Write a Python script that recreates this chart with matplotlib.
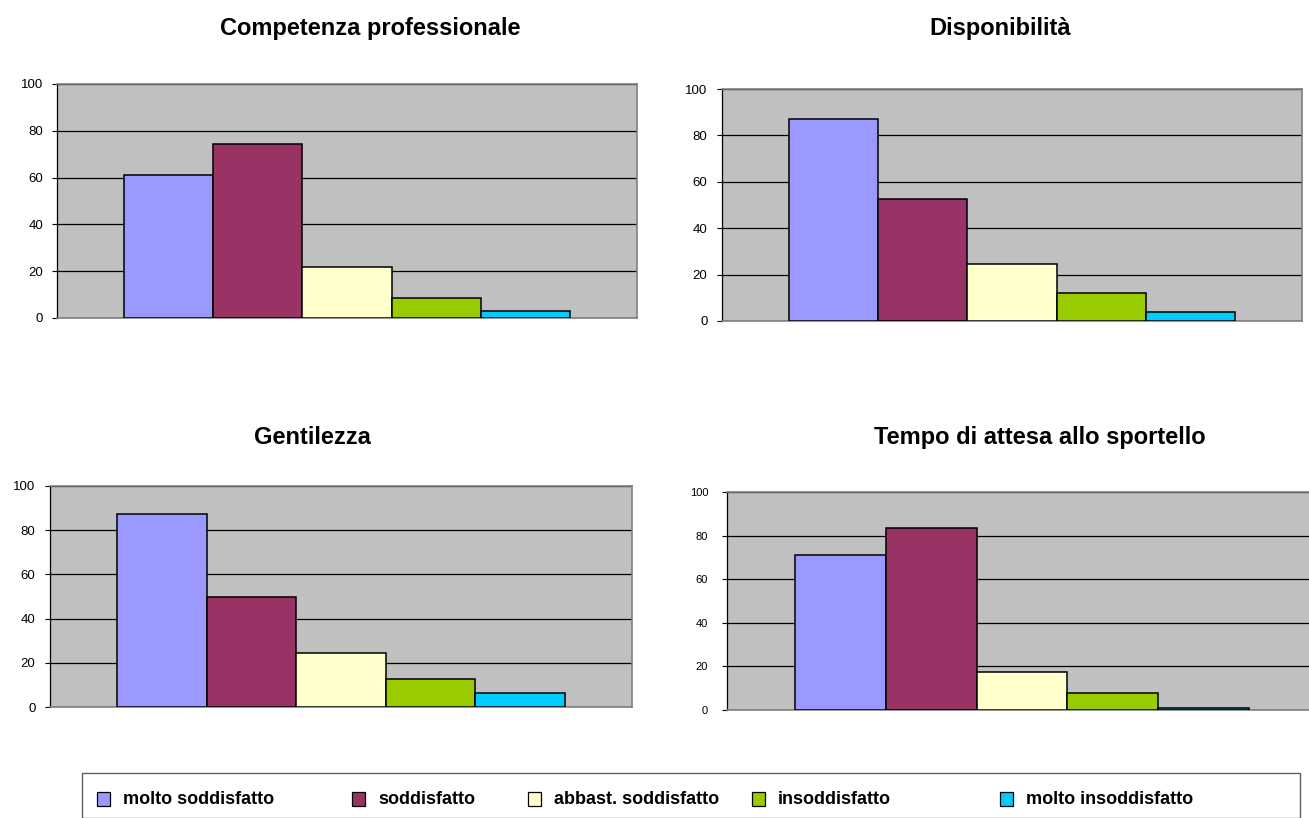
import matplotlib
matplotlib.use("Agg")
import matplotlib.pyplot as plt
from matplotlib.patches import Rectangle

plt.rcParams['font.family'] = ['Liberation Sans', 'DejaVu Sans']

categories = ["molto soddisfatto", "soddisfatto", "abbast. soddisfatto",
              "insoddisfatto", "molto insoddisfatto"]
colors = ["#9999FF", "#993366", "#FFFFCC", "#99CC00", "#00CCFF"]

titles = ["Competenza professionale", "Disponibilità", "Gentilezza",
          "Tempo di attesa allo sportello"]
competenza = [61, 74.5, 22, 8.5, 3]
disponibilita = [87, 52.5, 24.5, 12, 4]
gentilezza = [87.5, 50, 24.5, 12.5, 6.5]
tempo_attesa = [71, 83.5, 17.5, 8, 0.8]
series = [competenza, disponibilita, gentilezza, tempo_attesa]
yticks = [0, 20, 40, 60, 80, 100]

W, H = 1309, 818
fig = plt.figure(figsize=(W / 100, H / 100), dpi=100)

# (left, top, right, bottom) in pixels, title center (x, y), tick font size, pad
layout = [
    ((57, 84, 637, 318), (370, 28), 9.5, 6.5),
    ((722, 89, 1302, 321), (1000, 28), 9.5, 7.0),
    ((50, 486, 632, 707), (312, 437), 9.5, 7.0),
    ((727, 492, 1317, 710), (1040, 437), 8.0, 10.0),
]

for vals, title, (box, tpos, tfs, pad) in zip(series, titles, layout):
    l, t, r, b = box
    ax = fig.add_axes([l / W, 1 - b / H, (r - l) / W, (b - t) / H])
    ax.set_facecolor("#C0C0C0")
    x = list(range(len(vals)))
    ax.bar(x, vals, width=1.0, color=colors, edgecolor="black", linewidth=1.1,
           zorder=3)
    ax.set_xlim(-1.25, 5.25)
    ax.set_ylim(0, 100)
    ax.set_yticks(yticks)
    ax.set_xticks([])
    ax.yaxis.grid(True, color="black", linewidth=0.9, zorder=1)
    ax.set_axisbelow(True)
    ax.tick_params(axis="y", length=3.5, width=0.8, pad=pad, labelsize=tfs,
                   colors="black")
    for s in ["top", "right", "bottom"]:
        ax.spines[s].set_color("#808080")
        ax.spines[s].set_linewidth(1.2)
    ax.spines["left"].set_color("black")
    ax.spines["left"].set_linewidth(0.9)
    fig.text(tpos[0] / W, 1 - tpos[1] / H, title, ha="center", va="center",
             fontsize=17, fontweight="bold")

# Legend box
fig.patches.append(Rectangle((82 / W, 1 - 818 / H), (1300 - 82) / W,
                             (818 - 773) / H, transform=fig.transFigure,
                             facecolor="white", edgecolor="#606060",
                             linewidth=1.0))
leg_x = [97, 352, 528, 752, 1000]
for name, c, lx in zip(categories, colors, leg_x):
    fig.patches.append(Rectangle((lx / W, 1 - 806 / H), 13 / W, 14 / H,
                                 transform=fig.transFigure, facecolor=c,
                                 edgecolor="black", linewidth=0.9))
    fig.text((lx + 26) / W, 1 - 800 / H, name, ha="left", va="center",
             fontsize=13, fontweight="bold")

fig.savefig("out.png", dpi=100)
